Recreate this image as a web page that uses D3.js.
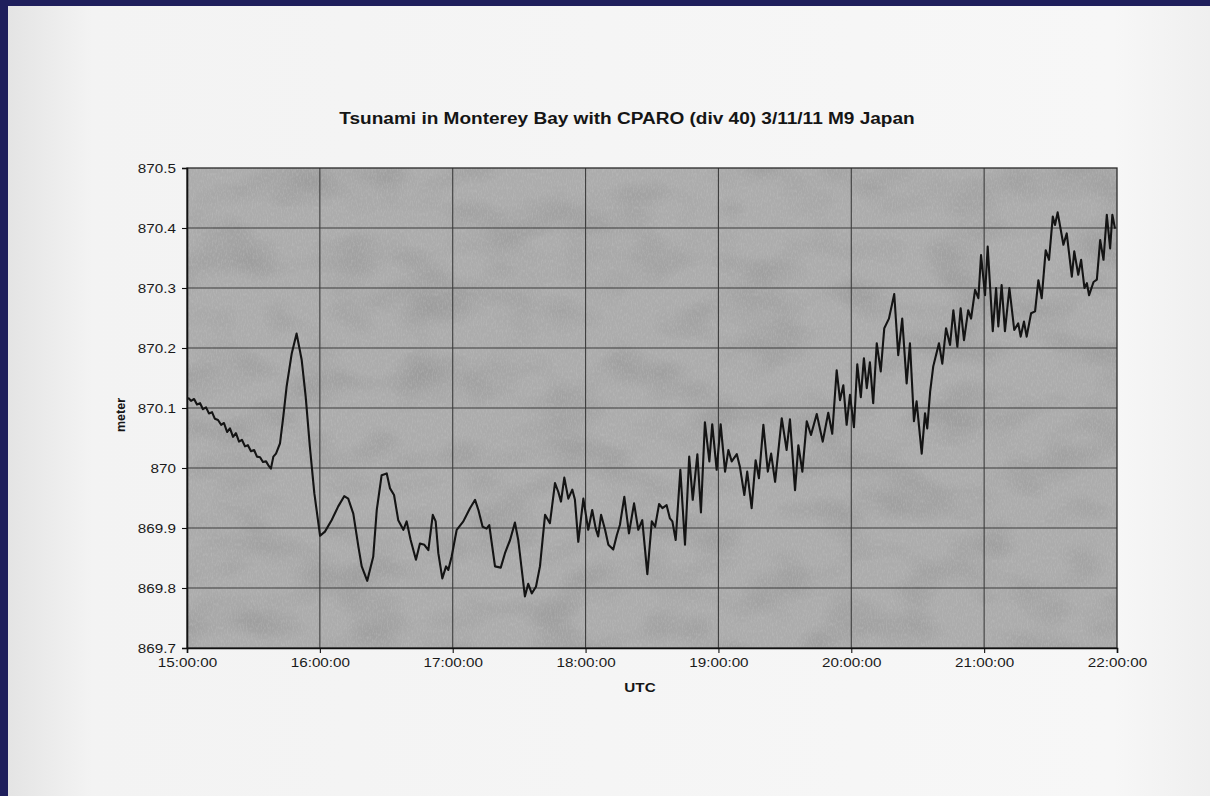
<!DOCTYPE html>
<html>
<head>
<meta charset="utf-8">
<script src="https://cdn.jsdelivr.net/npm/d3@7"></script>
<style>
  html, body { margin: 0; padding: 0; background: #1f1f5c; overflow: hidden; }
  svg { display: block; }
</style>
</head>
<body>
<svg id="chart" width="1210" height="796"></svg>
<script>
// CPARO pressure-derived water level, 11 March 2011, 15:00-22:00 UTC
// minutes after 15:00 UTC
const minutes = [
  0.5, 1.8, 3.2, 4.5, 5.9, 7.2, 8.6, 9.9, 11.3, 12.6, 14.0, 15.4, 16.7, 18.1, 19.4, 20.8,
  22.1, 23.5, 24.8, 26.2, 27.5, 28.9, 30.3, 31.6, 33.0, 34.3, 35.7, 37.0, 37.9,
  39.0, 40.2, 42.0, 43.5, 45.0, 47.3, 49.5, 51.8, 53.6, 55.5, 57.5, 60.1, 62.3, 65.3,
  68.3, 71.0, 72.8, 75.1, 77.4, 78.9, 81.4, 84.1, 85.7, 87.9, 90.2, 91.7, 93.5, 95.4,
  97.7, 99.2, 101.0, 103.4, 105.2, 107.2, 109.0, 111.0, 112.3, 113.5, 115.3, 117.0,
  118.0, 119.5, 121.8, 124.8, 127.8, 130.1, 131.6, 133.5, 135.3, 136.5, 139.1, 141.7,
  143.6, 145.9, 148.1, 149.6, 151.2, 152.6, 154.1, 155.7, 157.6, 159.4, 161.7, 163.9,
  166.2, 167.7, 168.9, 170.4, 172.2, 174.0, 175.2, 176.7, 179.0, 181.2, 183.0, 184.6,
  185.7, 187.0, 188.8, 190.3, 192.5, 194.1, 195.5, 197.5, 199.6, 201.9, 203.8, 205.6,
  207.9, 209.9, 211.4, 213.2, 214.7, 216.6, 218.1, 219.2, 220.7, 222.8, 224.9, 226.8,
  228.4, 230.5, 232.1, 233.9, 235.9, 237.2, 239.2, 241.0, 243.0, 244.5, 246.0, 248.3,
  249.7, 251.7, 253.0, 255.0, 256.8, 258.3, 260.3, 262.3, 263.8, 265.6, 268.6, 270.8,
  272.3, 274.6, 276.1, 277.9, 279.9, 281.8, 284.4, 287.1, 289.6, 291.4, 293.4, 294.9,
  296.4, 297.9, 299.4, 301.2, 302.7, 304.3, 305.7, 307.0, 308.4, 309.9, 311.5, 313.3,
  314.9, 317.0, 319.4, 321.2, 323.0, 325.0, 326.5, 328.3, 329.5, 331.8, 333.3, 334.3,
  335.6, 337.0, 339.6, 341.1, 342.8, 344.6, 346.1, 347.9, 349.4, 350.9, 352.8, 354.1,
  355.9, 357.4, 358.6, 360.4, 361.6, 363.9, 365.4, 366.4, 367.9, 369.4, 371.4, 373.6,
  375.4, 376.5, 378.0, 379.2, 381.2, 383.0, 384.5, 386.0, 387.8, 389.3, 391.0, 392.0,
  393.2, 395.8, 397.3, 399.6, 400.7, 402.5, 403.8, 405.3, 406.4, 407.4, 409.4, 410.9,
  412.4, 413.9, 415.4, 416.9, 417.9, 419.1
];

// water level, meter
const levels = [
  870.117, 870.112, 870.115, 870.106, 870.108, 870.098, 870.101, 870.091, 870.093, 870.082,
  870.080, 870.072, 870.075, 870.060, 870.066, 870.052, 870.058, 870.044, 870.047, 870.036,
  870.038, 870.028, 870.030, 870.019, 870.018, 870.010, 870.011, 870.003, 869.999,
  870.019, 870.024, 870.041, 870.086, 870.136, 870.191, 870.224, 870.180, 870.119, 870.035,
  869.958, 869.887, 869.894, 869.913, 869.936, 869.953, 869.949, 869.924, 869.869, 869.836,
  869.812, 869.852, 869.930, 869.988, 869.991, 869.966, 869.955, 869.913, 869.897, 869.911,
  869.880, 869.847, 869.874, 869.872, 869.863, 869.922, 869.911, 869.858, 869.816, 869.836,
  869.830, 869.852, 869.897, 869.911, 869.933, 869.947, 869.930, 869.902, 869.899, 869.905,
  869.836, 869.834, 869.858, 869.880, 869.909, 869.880, 869.830, 869.786, 869.807, 869.791,
  869.802, 869.836, 869.922, 869.908, 869.975, 869.960, 869.944, 869.984, 869.949, 869.964,
  869.947, 869.877, 869.949, 869.897, 869.930, 869.899, 869.886, 869.922, 869.897, 869.872,
  869.864, 869.888, 869.905, 869.952, 869.891, 869.941, 869.897, 869.913, 869.823, 869.911,
  869.902, 869.940, 869.933, 869.938, 869.916, 869.911, 869.880, 869.997, 869.872, 870.019,
  869.947, 870.023, 869.926, 870.076, 870.011, 870.073, 869.997, 870.073, 869.994, 870.030,
  870.011, 870.023, 870.002, 869.955, 869.994, 869.933, 870.013, 869.983, 870.072, 869.994,
  870.024, 869.977, 870.083, 870.030, 870.081, 869.963, 870.038, 869.994, 870.078, 870.055,
  870.090, 870.044, 870.092, 870.057, 870.163, 870.113, 870.138, 870.072, 870.122, 870.068,
  870.173, 870.118, 870.183, 870.133, 870.176, 870.108, 870.208, 870.161, 870.233, 870.249,
  870.290, 870.188, 870.249, 870.141, 870.208, 870.078, 870.111, 870.024, 870.091, 870.066,
  870.127, 870.169, 870.208, 870.174, 870.233, 870.205, 870.263, 870.202, 870.266, 870.213,
  870.263, 870.249, 870.297, 870.283, 870.355, 870.288, 870.369, 870.228, 870.300, 870.236,
  870.305, 870.228, 870.300, 870.230, 870.241, 870.219, 870.244, 870.219, 870.258, 870.261,
  870.313, 870.283, 870.363, 870.347, 870.419, 870.405, 870.426, 870.372, 870.391, 870.319,
  870.361, 870.322, 870.347, 870.300, 870.308, 870.288, 870.310, 870.314, 870.380, 870.347,
  870.422, 870.366, 870.422, 870.399
];

const yTickValues = [869.7, 869.8, 869.9, 870.0, 870.1, 870.2, 870.3, 870.4, 870.5];
const titleText = "Tsunami in Monterey Bay with CPARO (div 40) 3/11/11 M9 Japan";
const xAxisTitle = "UTC";
const yAxisTitle = "meter";

const startTime = new Date(Date.UTC(2011, 2, 11, 15, 0, 0));
const endTime = new Date(Date.UTC(2011, 2, 11, 22, 0, 0));

const series = minutes.map((m, i) => ({
  t: new Date(startTime.getTime() + m * 60000),
  v: levels[i]
}));

// layout
const W = 1210, H = 796;
const plot = { left: 187, top: 168, right: 1117, bottom: 648 };
const font = "'Liberation Sans', Arial, Helvetica, sans-serif";
const SX = 1.22; // horizontal text stretch of the printed sheet

const svg = d3.select("#chart");
const defs = svg.append("defs");

// faint mottling for the printed plot area: a flat tint masked by noise
function mottle(id, freq, seed, color, alphaScale, alphaBias) {
  const f = defs.append("filter").attr("id", id)
    .attr("x", 0).attr("y", 0).attr("width", "100%").attr("height", "100%");
  f.append("feTurbulence").attr("type", "fractalNoise")
    .attr("baseFrequency", freq).attr("numOctaves", 2).attr("seed", seed).attr("result", "n");
  f.append("feColorMatrix").attr("in", "n").attr("type", "matrix")
    .attr("values", `0 0 0 0 0  0 0 0 0 0  0 0 0 0 0  0 0 0 ${alphaScale} ${alphaBias}`)
    .attr("result", "a");
  f.append("feFlood").attr("flood-color", color).attr("result", "c");
  f.append("feComposite").attr("in", "c").attr("in2", "a").attr("operator", "in");
}
mottle("mottleDark", "0.015 0.025", 7, "#6e6e6e", 2.2, -0.95);
mottle("mottleFine", "0.8 0.3", 3, "#d0d0d0", 2.0, -0.85);

const shade = defs.append("linearGradient").attr("id", "paperShade")
  .attr("x1", 0).attr("x2", 1).attr("y1", 0).attr("y2", 0);
shade.append("stop").attr("offset", 0).attr("stop-color", "#e4e4e4");
shade.append("stop").attr("offset", 0.07).attr("stop-color", "#f3f3f3");
shade.append("stop").attr("offset", 0.92).attr("stop-color", "#f7f7f7");
shade.append("stop").attr("offset", 1).attr("stop-color", "#efefef");

// dark border and paper sheet
svg.append("rect").attr("width", W).attr("height", H).attr("fill", "#1f1f5c");
svg.append("rect").attr("x", 8).attr("y", 6).attr("width", W - 8).attr("height", H - 6)
  .attr("fill", "url(#paperShade)");

// scales
const x = d3.scaleUtc().domain([startTime, endTime]).range([plot.left, plot.right]);
const y = d3.scaleLinear().domain([869.7, 870.5]).range([plot.bottom, plot.top]);

// plot area
const pw = plot.right - plot.left, ph = plot.bottom - plot.top;
svg.append("rect").attr("x", plot.left).attr("y", plot.top).attr("width", pw).attr("height", ph)
  .attr("fill", "#acacac");
svg.append("rect").attr("x", plot.left).attr("y", plot.top).attr("width", pw).attr("height", ph)
  .attr("filter", "url(#mottleDark)").attr("opacity", 0.25);
svg.append("rect").attr("x", plot.left).attr("y", plot.top).attr("width", pw).attr("height", ph)
  .attr("filter", "url(#mottleFine)").attr("opacity", 0.3);

// gridlines
const hourTicks = x.ticks(d3.utcHour.every(1));
svg.append("g").selectAll("line").data(yTickValues.slice(1, -1)).join("line")
  .attr("x1", plot.left).attr("x2", plot.right)
  .attr("y1", d => y(d)).attr("y2", d => y(d))
  .attr("stroke", "#3d3d3d").attr("stroke-width", 1.1);
svg.append("g").selectAll("line").data(hourTicks.slice(1, -1)).join("line")
  .attr("x1", d => x(d)).attr("x2", d => x(d))
  .attr("y1", plot.top).attr("y2", plot.bottom)
  .attr("stroke", "#3d3d3d").attr("stroke-width", 1.1);

// frame
svg.append("rect").attr("x", plot.left).attr("y", plot.top).attr("width", pw).attr("height", ph)
  .attr("fill", "none").attr("stroke", "#2a2a2a").attr("stroke-width", 1.3);

// axes
const fmtLevel = d => String(+d.toFixed(1));
const yAxis = svg.append("g").attr("transform", `translate(${plot.left},0)`)
  .call(d3.axisLeft(y).tickValues(yTickValues).tickFormat(fmtLevel).tickSize(5).tickPadding(6));
const xAxis = svg.append("g").attr("transform", `translate(0,${plot.bottom})`)
  .call(d3.axisBottom(x).ticks(d3.utcHour.every(1)).tickFormat(d3.utcFormat("%H:%M:%S"))
    .tickSize(5).tickPadding(6));

[yAxis, xAxis].forEach(g => {
  g.select(".domain").attr("stroke", "#111").attr("stroke-width", 1.6);
  g.selectAll(".tick line").attr("stroke", "#111").attr("stroke-width", 1.1);
  g.selectAll("text").attr("font-family", font).attr("font-size", 12.5).attr("fill", "#1a1a1a");
});
yAxis.selectAll(".tick text").attr("x", -11 / SX).attr("transform", `scale(${SX},1)`);
xAxis.selectAll(".tick text").attr("y", 10).attr("transform", `scale(${SX},1)`);

// water level trace
const line = d3.line().x(d => x(d.t)).y(d => y(d.v));
svg.append("path").datum(series)
  .attr("d", line)
  .attr("fill", "none")
  .attr("stroke", "#141414")
  .attr("stroke-width", 2.1)
  .attr("stroke-linejoin", "round");

// titles
function stretchedText(cx, cy, txt, size, weight, rotate) {
  const g = svg.append("g").attr("transform",
    `translate(${cx},${cy})` + (rotate ? ` rotate(${rotate})` : ` scale(${SX},1)`));
  g.append("text").attr("text-anchor", "middle").attr("dominant-baseline", "central")
    .attr("font-family", font).attr("font-size", size).attr("font-weight", weight)
    .attr("fill", "#151515").text(txt);
  return g;
}
stretchedText(627, 119, titleText, 15.6, "bold");
stretchedText(640, 688, xAxisTitle, 12.5, "bold");
stretchedText(121, 415, yAxisTitle, 12.5, "bold", -90);
</script>
</body>
</html>
